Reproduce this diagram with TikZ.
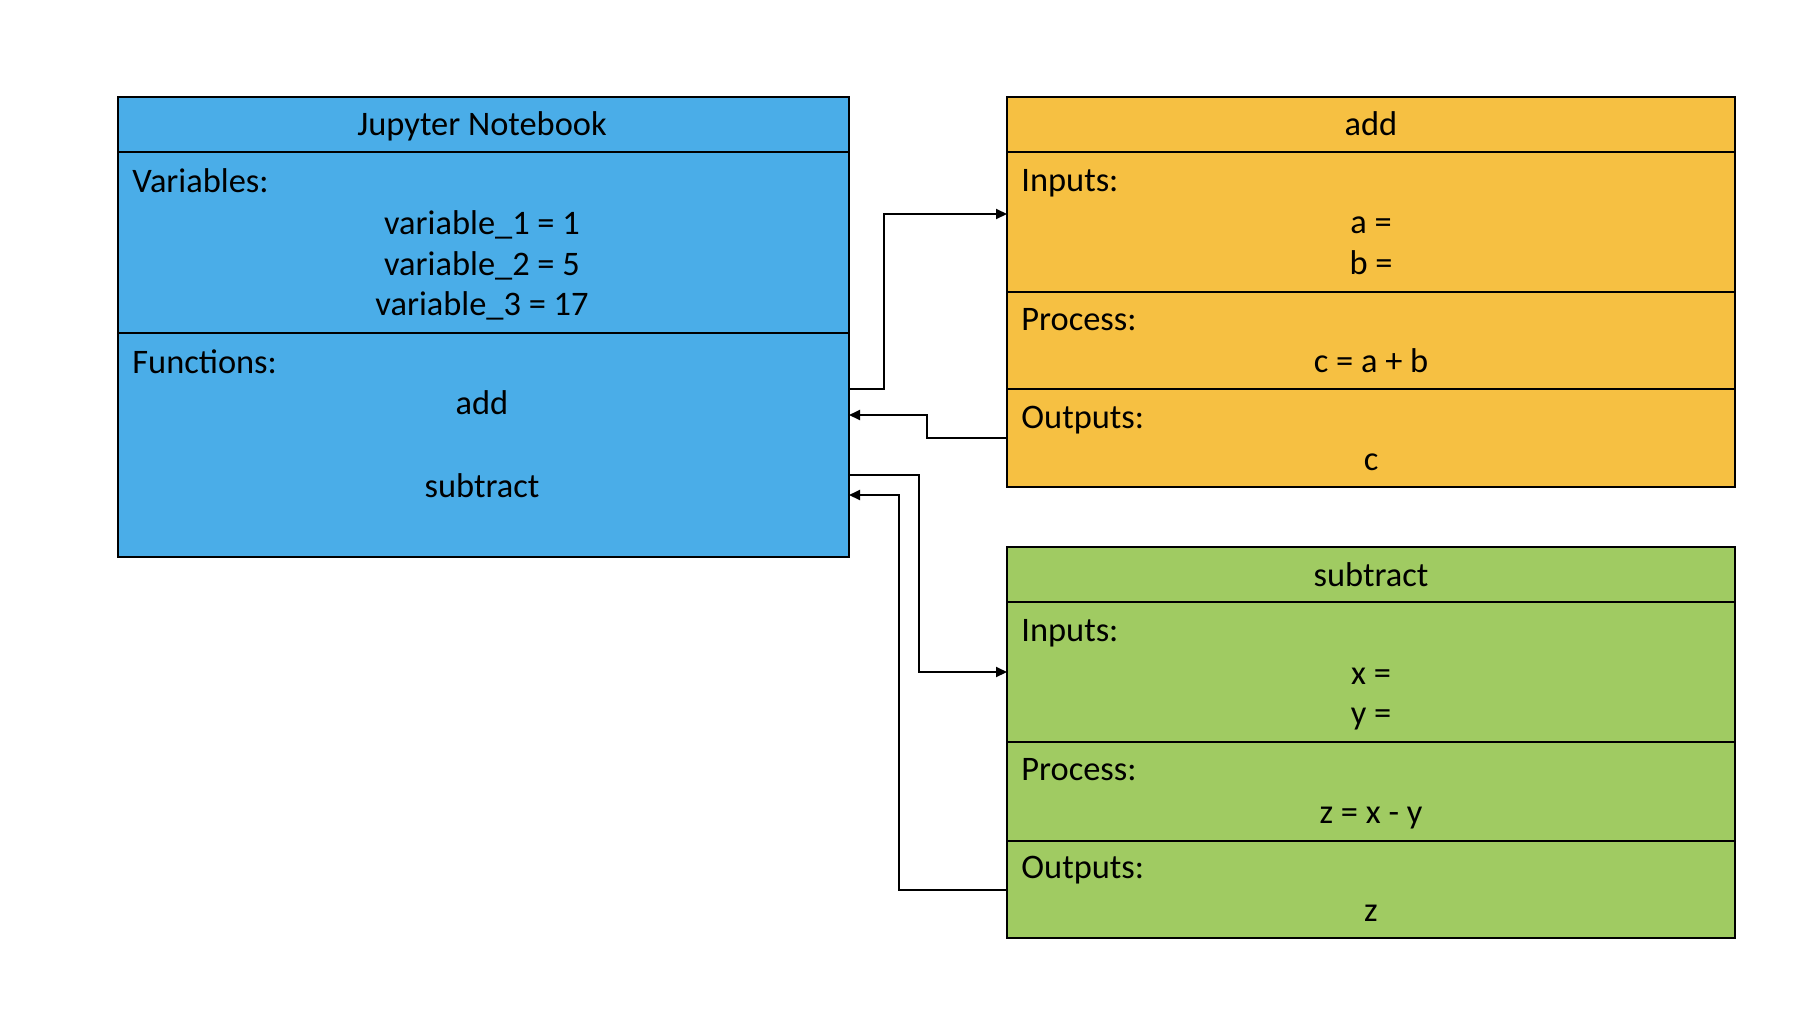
\documentclass[tikz,border=0pt]{standalone}
\usepackage{fontspec}
\setmainfont{Carlito}
\usetikzlibrary{arrows.meta}
\definecolor{nbblue}{RGB}{74,173,232}
\definecolor{addorange}{RGB}{246,192,66}
\definecolor{subgreen}{RGB}{160,203,98}
\newcommand\secbox[6]{\node[secbox, fill=#6, minimum width={(#4-#2)*0.5pt}, minimum height={(#5-#3)*0.5pt}] (#1) at ({(#2+#4)/2},{(#3+#5)/2}) {};}
\begin{document}
\begin{tikzpicture}[x=0.5pt,y=-0.5pt,
  secbox/.style={draw=black, line width=1.4pt, rectangle, inner sep=0pt, outer sep=0pt},
  txt/.style={inner sep=0pt, yshift=-0.8pt, font=\fontsize{17.2}{20}\selectfont},
  conn/.style={draw=black, line width=1pt},
  arr/.style={conn, -{Triangle[length=5.5pt,width=5pt]}}]
\useasboundingbox[fill=white] (0,0) rectangle (1802,1012);
% Jupyter Notebook box
\secbox{nbhead}{118}{97}{849}{152}{nbblue}
\secbox{nbvars}{118}{152}{849}{333}{nbblue}
\secbox{nbfuncs}{118}{333}{849}{557}{nbblue}
% add box
\secbox{addhead}{1007}{97}{1735}{152}{addorange}
\secbox{addin}{1007}{152}{1735}{292}{addorange}
\secbox{addproc}{1007}{292}{1735}{389}{addorange}
\secbox{addout}{1007}{389}{1735}{487}{addorange}
% subtract box
\secbox{subhead}{1007}{547}{1735}{602}{subgreen}
\secbox{subin}{1007}{602}{1735}{742}{subgreen}
\secbox{subproc}{1007}{742}{1735}{841}{subgreen}
\secbox{subout}{1007}{841}{1735}{938}{subgreen}
% texts: notebook
\node[txt, anchor=base] (tnb) at (482,134) {Jupyter Notebook};
\node[txt, anchor=base west] (tvars) at (132,191) {Variables:};
\node[txt, anchor=base] (tv1) at (482,233) {variable\_1 = 1};
\node[txt, anchor=base] (tv2) at (482,274) {variable\_2 = 5};
\node[txt, anchor=base] (tv3) at (482,314) {variable\_3 = 17};
\node[txt, anchor=base west] (tfun) at (132,372) {Functions:};
\node[txt, anchor=base] (tfadd) at (482,413) {add};
\node[txt, anchor=base] (tfsub) at (482,496) {subtract};
% texts: add
\node[txt, anchor=base] (tadd) at (1371,134) {add};
\node[txt, anchor=base west] (tain) at (1021,190) {Inputs:};
\node[txt, anchor=base] (ta) at (1371,232) {a =};
\node[txt, anchor=base] (tb) at (1371,273) {b =};
\node[txt, anchor=base west] (tapr) at (1021,329) {Process:};
\node[txt, anchor=base] (tc) at (1371,371) {c = a + b};
\node[txt, anchor=base west] (taout) at (1021,427) {Outputs:};
\node[txt, anchor=base] (tco) at (1371,469) {c};
% texts: subtract
\node[txt, anchor=base] (tsub) at (1371,585) {subtract};
\node[txt, anchor=base west] (tsin) at (1021,640) {Inputs:};
\node[txt, anchor=base] (tx) at (1371,683) {x =};
\node[txt, anchor=base] (ty) at (1371,723) {y =};
\node[txt, anchor=base west] (tspr) at (1021,779) {Process:};
\node[txt, anchor=base] (tz) at (1371,822) {z = x - y};
\node[txt, anchor=base west] (tsout) at (1021,877) {Outputs:};
\node[txt, anchor=base] (tzo) at (1371,920) {z};
% connectors
\draw[arr] ([yshift=-28pt]nbfuncs.north east) -- ++(35,0) |- ([yshift=4pt]addin.west);
\draw[arr] (addout.west) -- ++(-80,0) |- ([yshift=-41pt]nbfuncs.north east);
\draw[arr] ([yshift=-71pt]nbfuncs.north east) -- ++(70,0) |- (subin.west);
\draw[arr] (subout.west) -- ++(-108,0) |- ([yshift=-81pt]nbfuncs.north east);
\end{tikzpicture}
\end{document}
